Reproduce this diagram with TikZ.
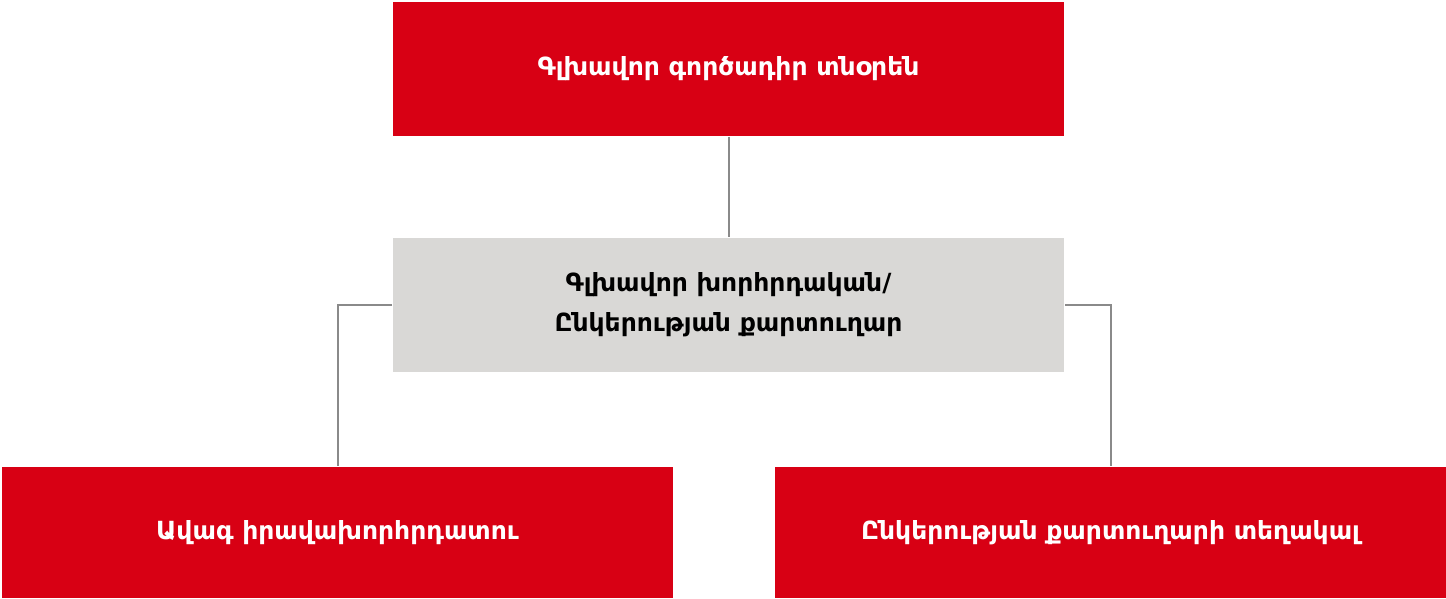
\documentclass[tikz,border=0pt]{standalone}
\usepackage{fontspec}
\setmainfont{DejaVu Sans}
\usepackage{xcolor}
\usetikzlibrary{positioning}
\definecolor{chartred}{HTML}{D80014}
\definecolor{chartgray}{HTML}{D9D8D6}
\definecolor{linegray}{HTML}{8A8A8A}
\tikzset{org_chart/.style={x=0.5pt,y=-0.5pt,line width=1pt}}
\tikzset{red_box/.style={fill=chartred, text=white, font=\bfseries\fontsize{12.5}{20}\selectfont, minimum width=335.5pt, minimum height=66pt, inner sep=0pt, align=center}}
\tikzset{gray_box/.style={red_box, fill=chartgray, text=black, minimum height=67pt}}
\tikzset{org_link/.style={draw=linegray}}

\begin{document}
\begin{tikzpicture}[org_chart]
    \useasboundingbox (0,0) rectangle (1446,599);
    %\draw[help lines] (0,0) grid (1446,599);
    \node[red_box, minimum height=67pt] (ceo) at (728.5,69) {Գլխավոր գործադիր տնօրեն};
    \node[gray_box] (counsel) at (728.5,305) {Գլխավոր խորհրդական/\\Ընկերության քարտուղար};
    \node[red_box, minimum height=65.5pt] (senior) at (337.5,532.5) {Ավագ իրավախորհրդատու};
    \node[red_box, minimum height=65.5pt] (deputy) at (1110.5,532.5) {Ընկերության քարտուղարի տեղակալ};

    \path[org_link]
        (ceo) edge (counsel)
    ;
    \draw[org_link] (counsel.west) -| (senior.north);
    \draw[org_link] (counsel.east) -| (deputy.north);
\end{tikzpicture}
\end{document}
